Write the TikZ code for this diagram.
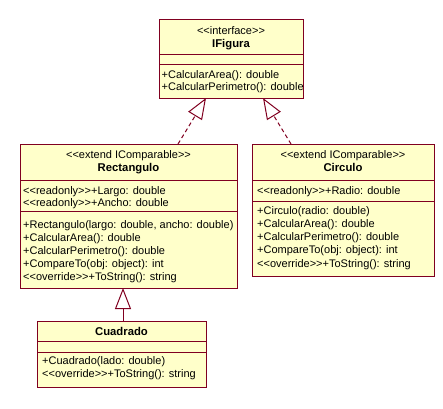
\documentclass[tikz,border=0pt]{standalone}
\usepackage{fontspec}
\newfontfamily\umlfont{Liberation Sans}
\usetikzlibrary{arrows.meta}
\definecolor{umlfill}{RGB}{255,255,202}
\definecolor{umlline}{RGB}{128,0,32}
\begin{document}
\begin{tikzpicture}[x=1pt,y=-1pt,
 box/.style={draw=umlline, fill=umlfill, line width=1pt, rectangle, inner sep=0pt, anchor=north west},
 sep/.style={draw=umlline, line width=1pt},
 txt/.style={anchor=base west, inner sep=0pt, font=\umlfont\fontsize{11}{13}\selectfont},
 ctr/.style={anchor=base, inner sep=0pt, font=\umlfont\fontsize{11}{13}\selectfont},
 bld/.style={anchor=base, inner sep=0pt, font=\umlfont\fontsize{11.3}{13}\selectfont\bfseries},
 real/.style={draw=umlline, line width=1pt, dash pattern=on 4pt off 3pt, -{Triangle[open,length=21pt,width=16pt]}},
 gen/.style={draw=umlline, line width=1pt, -{Triangle[open,length=21pt,width=16pt]}}]
\useasboundingbox (0,0) rectangle (443,408);

% IFigura
\node[box, minimum width=144pt, minimum height=79pt] (ifig) at (159,19) {};
\draw[sep] (159,54) -- (303,54);
\draw[sep] (159,64) -- (303,64);
\node[ctr] (ifigS) at (231,34) {<<interface>>};
\node[bld] (ifigN) at (231,47) {IFigura};
\node[txt] (ifigM1) at (161.5,78) {+CalcularArea(): double};
\node[txt] (ifigM2) at (161.5,90.5) {+CalcularPerimetro(): double};

% Rectangulo
\node[box, minimum width=217pt, minimum height=144pt] (rect) at (20,144) {};
\draw[sep] (20,180) -- (237,180);
\draw[sep] (20,211) -- (237,211);
\node[ctr] (rectS) at (128.5,158.5) {<<extend IComparable>>};
\node[bld] (rectN) at (128.5,171) {Rectangulo};
\node[txt] (rectA1) at (23,194) {<<readonly>>+Largo: double};
\node[txt] (rectA2) at (23,206.5) {<<readonly>>+Ancho: double};
\node[txt] (rectM1) at (23,228) {+Rectangulo(largo: double, ancho: double)};
\node[txt] (rectM2) at (23,241) {+CalcularArea(): double};
\node[txt] (rectM3) at (23,254) {+CalcularPerimetro(): double};
\node[txt] (rectM4) at (23,267) {+CompareTo(obj: object): int};
\node[txt] (rectM5) at (23,280) {<<override>>+ToString(): string};

% Circulo
\node[box, minimum width=182pt, minimum height=132pt] (circ) at (252,144) {};
\draw[sep] (252,180) -- (434,180);
\draw[sep] (252,201) -- (434,201);
\node[ctr] (circS) at (343,158.5) {<<extend IComparable>>};
\node[bld] (circN) at (343,171) {Circulo};
\node[txt] (circA1) at (257,194) {<<readonly>>+Radio: double};
\node[txt] (circM1) at (257,214) {+Circulo(radio: double)};
\node[txt] (circM2) at (257,227.3) {+CalcularArea(): double};
\node[txt] (circM3) at (257,240.6) {+CalcularPerimetro(): double};
\node[txt] (circM4) at (257,253.9) {+CompareTo(obj: object): int};
\node[txt] (circM5) at (257,267.2) {<<override>>+ToString(): string};

% Cuadrado
\node[box, minimum width=169pt, minimum height=66pt] (cuad) at (37,321) {};
\draw[sep] (37,341) -- (206,341);
\draw[sep] (37,352) -- (206,352);
\node[bld] (cuadN) at (121.5,335) {Cuadrado};
\node[txt] (cuadM1) at (42,364.5) {+Cuadrado(lado: double)};
\node[txt] (cuadM2) at (42,377) {<<override>>+ToString(): string};

% connectors
\coordinate (r1s) at (178,144);
\coordinate (r1t) at (206,98);
\coordinate (r2s) at (291,144);
\coordinate (r2t) at (263,98);
\coordinate (gs) at (123,321);
\coordinate (gt) at (123,288);
\draw[real] (r1s) -- (r1t);
\draw[real] (r2s) -- (r2t);
\draw[gen] (gs) -- (gt);
\end{tikzpicture}
\end{document}
